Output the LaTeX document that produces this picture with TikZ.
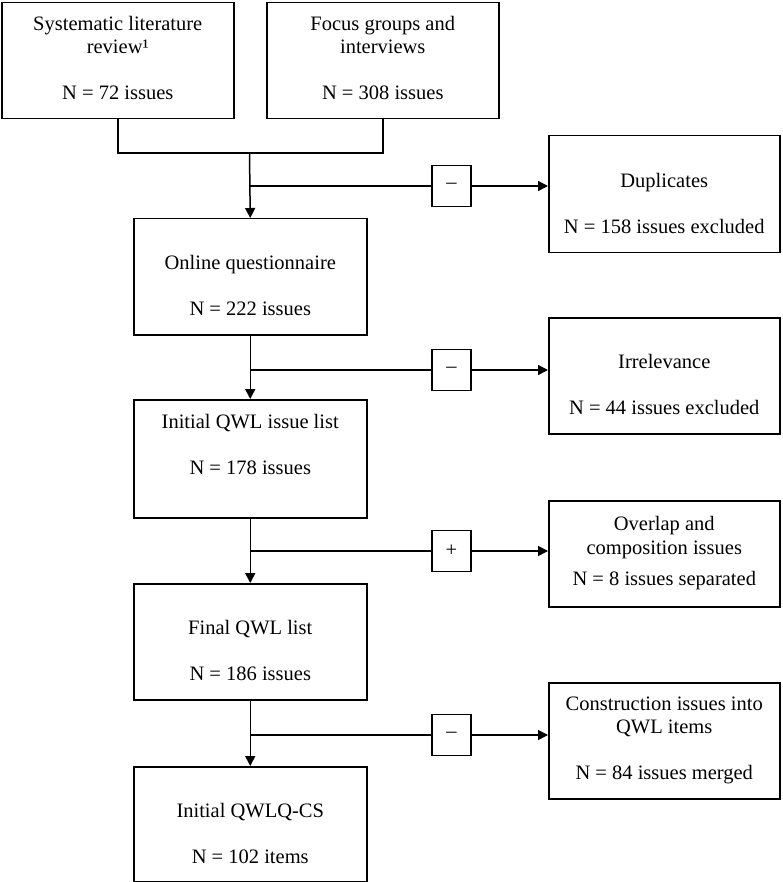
\documentclass[tikz,border=0pt]{standalone}
\usepackage{fontspec}
\setmainfont{Liberation Serif}
\usetikzlibrary{arrows.meta}
\begin{document}
\begin{tikzpicture}[x=1pt,y=-1pt,
  every node/.style={font=\fontsize{20.5}{23}\selectfont},
  box/.style={draw, line width=1.5pt, inner sep=0pt, align=center, anchor=north west,
    minimum width=#1},
  signbox/.style={draw, line width=1.5pt, inner sep=0pt, minimum width=39pt, minimum height=41pt},
  conn/.style={line width=1.5pt},
  arr/.style={line width=1.5pt, -{Triangle[length=10pt,width=10pt]}}]
\useasboundingbox (0,0) rectangle (782,882);
% left column and top boxes
\node[box=232, minimum height=116] (A) at (1,2)
  {\strut Systematic literature\\review¹\\\strut\\N = 72 issues\strut};
\node[box=232, minimum height=116] (B) at (266,2)
  {\strut Focus groups and\\interviews\\\strut\\N = 308 issues\strut};
\node[box=233, minimum height=116] (C) at (133,218)
  {\strut\\Online questionnaire\\\strut\\N = 222 issues\strut};
\node[box=233, minimum height=118] (D) at (133,399)
  {\strut Initial QWL issue list\\\strut\\N = 178 issues\\\strut};
\node[box=233, minimum height=116] (E) at (133,583)
  {\strut\\Final QWL list\\\strut\\N = 186 issues\strut};
\node[box=233, minimum height=115] (F) at (133,766)
  {\strut\\Initial QWLQ-CS\\\strut\\N = 102 items\strut};
% right column
\node[box=231, minimum height=117] (Dup) at (548,135)
  {\strut\\Duplicates\\\strut\\N = 158 issues excluded\strut};
\node[box=231, minimum height=116] (Irr) at (548,317)
  {\strut\\Irrelevance\\\strut\\N = 44 issues excluded\strut};
\node[box=231, minimum height=106] (Ovl) at (548,500)
  {\strut Overlap and\\[1pt]composition issues\\[8pt]N = 8 issues separated\rule[-8pt]{0pt}{8pt}};
\node[box=231, minimum height=116] (Con) at (548,682)
  {\strut Construction issues into\\QWL items\\\strut\\N = 84 issues merged\strut};
% sign boxes
\node[signbox] (s1) at (451.5,186) {–};
\node[signbox] (s2) at (451.5,370) {–};
\node[signbox] (s3) at (451.5,551) {+};
\node[signbox] (s4) at (451.5,735) {–};
% junction
\coordinate (J) at (249.5,153);
\draw[conn] (A.south) |- (J) -| (B.south);
\draw[arr] (J) -- (C.north);
\draw[arr] (C.south) -- (D.north);
\draw[arr] (D.south) -- (E.north);
\draw[arr] (E.south) -- (F.north);
% branches
\coordinate (b1) at (249.5,186);
\coordinate (b2) at (249.5,370);
\coordinate (b3) at (249.5,551);
\coordinate (b4) at (249.5,735);
\draw[conn] (b1) -- (s1.west);
\draw[conn] (b2) -- (s2.west);
\draw[conn] (b3) -- (s3.west);
\draw[conn] (b4) -- (s4.west);
\draw[arr] (s1.east) -- (s1.east -| Dup.west);
\draw[arr] (s2.east) -- (s2.east -| Irr.west);
\draw[arr] (s3.east) -- (s3.east -| Ovl.west);
\draw[arr] (s4.east) -- (s4.east -| Con.west);
\end{tikzpicture}
\end{document}
